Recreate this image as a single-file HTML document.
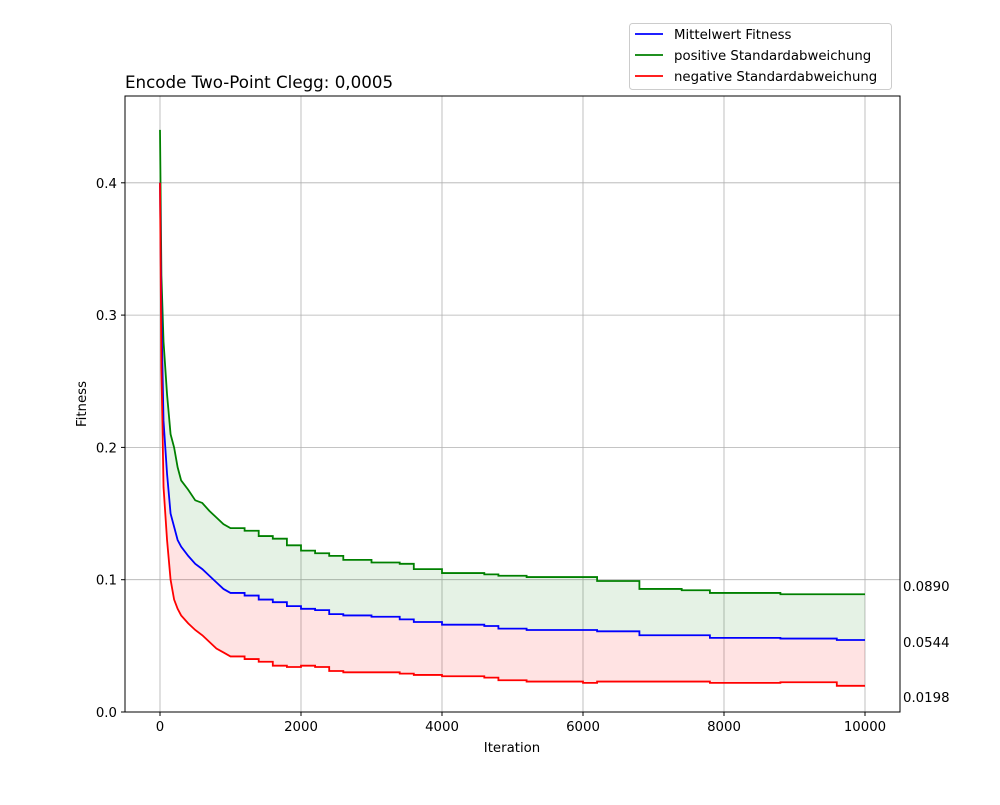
<!DOCTYPE html>
<html><head><meta charset="utf-8"><style>
body{margin:0;background:#fff}
svg text{font-family:"DejaVu Sans","Liberation Sans",sans-serif;fill:#000}
</style></head><body>
<svg id="chart" width="1000" height="800">
<g id="grid"></g><g id="fills"></g><g id="lines"></g><g id="axes"></g>
</svg>
<script>
const xTicks=[0,2000,4000,6000,8000,10000];
const yTicks=[0,0.1,0.2,0.3,0.4];
const iterations=[0,20,50,100,150,200,250,300,400,500,600,700,800,900,1000,1200,1400,1600,1800,2000,2200,2400,2600,3000,3400,3600,4000,4600,4800,5200,6000,6200,6800,7400,7800,8800,9600,10000];
const meanVals=[0.40,0.30,0.22,0.18,0.15,0.14,0.13,0.125,0.118,0.112,0.108,0.103,0.098,0.093,0.090,0.088,0.085,0.083,0.080,0.078,0.077,0.074,0.073,0.072,0.070,0.068,0.066,0.065,0.063,0.062,0.062,0.061,0.058,0.058,0.056,0.0555,0.0544,0.0544];
const posVals=[0.44,0.33,0.28,0.24,0.21,0.20,0.185,0.175,0.168,0.16,0.158,0.152,0.147,0.142,0.139,0.137,0.133,0.131,0.126,0.122,0.120,0.118,0.115,0.113,0.112,0.108,0.105,0.104,0.103,0.102,0.102,0.099,0.093,0.092,0.090,0.089,0.089,0.089];
const negVals=[0.40,0.26,0.17,0.13,0.10,0.085,0.078,0.073,0.067,0.062,0.058,0.053,0.048,0.045,0.042,0.040,0.038,0.035,0.034,0.035,0.034,0.031,0.030,0.030,0.029,0.028,0.027,0.026,0.024,0.023,0.022,0.023,0.023,0.023,0.022,0.0225,0.0198,0.0198];
const endLabels=["0.0890","0.0544","0.0198"];
const NS="http://www.w3.org/2000/svg";
const L=125,R=900,T=96,B=712;
const xs=v=>160+v*(705/10000);
const ys=v=>712-v*1323;
function mk(parent,tag,attrs,txt){const e=document.createElementNS(NS,tag);for(const k in attrs)e.setAttribute(k,attrs[k]);if(txt!==undefined)e.textContent=txt;document.getElementById(parent).appendChild(e);return e;}
function stepPts(vals){let p=[];for(let i=0;i<iterations.length;i++){if(i>0&&iterations[i]>1000)p.push([xs(iterations[i]),ys(vals[i-1])]);p.push([xs(iterations[i]),ys(vals[i])]);}return p;}
xTicks.forEach(t=>{const e=mk('grid','line',{x1:xs(t),x2:xs(t),y1:T,y2:B,stroke:'#b0b0b0','stroke-width':0.8});

});
yTicks.forEach(t=>{const e=mk('grid','line',{x1:L,x2:R,y1:ys(t),y2:ys(t),stroke:'#b0b0b0','stroke-width':0.8});

});
const pm=stepPts(posVals),mm=stepPts(meanVals),nm=stepPts(negVals);
const ptsStr=a=>a.map(p=>p.join(',')).join(' ');
let f1=mk('fills','polygon',{points:ptsStr(pm.concat(mm.slice().reverse())),fill:'#008000','fill-opacity':0.1});


let f2=mk('fills','polygon',{points:ptsStr(mm.concat(nm.slice().reverse())),fill:'#ff0000','fill-opacity':0.11});


[[posVals,'#008000','positive-std-line'],[meanVals,'#0000ff','mean-fitness-line'],[negVals,'#ff0000','negative-std-line']].forEach(([v,c,n])=>{
const e=mk('lines','polyline',{points:ptsStr(stepPts(v)),fill:'none',stroke:c,'stroke-width':1.8});

});
mk('axes','rect',{x:L,y:T,width:R-L,height:B-T,fill:'none',stroke:'#000','stroke-width':1});
xTicks.forEach(t=>{mk('axes','line',{x1:xs(t),x2:xs(t),y1:B,y2:B+4,stroke:'#000'});
const e=mk('axes','text',{x:xs(t),y:B+19,'text-anchor':'middle','font-size':13.3},String(t));

});
yTicks.forEach(t=>{mk('axes','line',{x1:L-4,x2:L,y1:ys(t),y2:ys(t),stroke:'#000'});
const e=mk('axes','text',{x:L-8,y:ys(t)+5,'text-anchor':'end','font-size':13.3},t.toFixed(1));

});
endLabels.forEach((s,i)=>{const yy=[591,647,702][i];const e=mk('axes','text',{x:903,y:yy,'font-size':13.3},s);

});
</script>
<svg style="position:absolute;left:0;top:0" width="1000" height="800">
<text x="512" y="752" text-anchor="middle" font-size="13.3">Iteration</text>
<text x="86" y="404" text-anchor="middle" font-size="13.3" transform="rotate(-90 86 404)">Fitness</text>
<text x="125" y="88" font-size="16.7">Encode Two-Point Clegg: 0,0005</text>
<g>
<rect x="629.5" y="23.5" width="262" height="66" rx="3" fill="#fff" fill-opacity="0.8" stroke="#ccc"/>
<line x1="635" x2="663" y1="34" y2="34" stroke="#0000ff" stroke-width="1.8"/>
<text x="674" y="39" font-size="13.3">Mittelwert Fitness</text>
<line x1="635" x2="663" y1="55" y2="55" stroke="#008000" stroke-width="1.8"/>
<text x="674" y="60" font-size="13.3">positive Standardabweichung</text>
<line x1="635" x2="663" y1="76" y2="76" stroke="#ff0000" stroke-width="1.8"/>
<text x="674" y="81" font-size="13.3">negative Standardabweichung</text>
</g>
</svg>
</body></html>
